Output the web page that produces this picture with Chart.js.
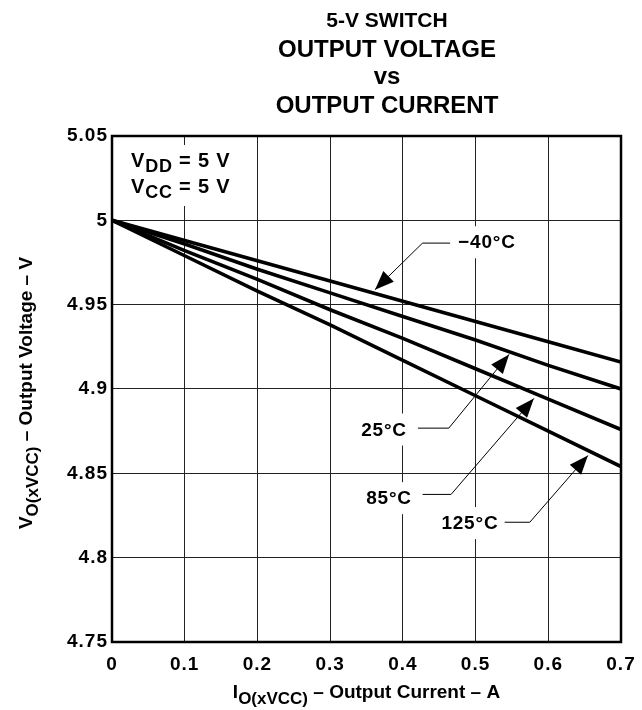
<!DOCTYPE html>
<html>
<head>
<meta charset="utf-8">
<script src="https://cdn.jsdelivr.net/npm/chart.js@4.4.0/dist/chart.umd.min.js"></script>
<style>
  html, body { margin: 0; padding: 0; background: #fff; }
  #wrap { width: 642px; height: 710px; position: relative; }
</style>
</head>
<body>
<div id="wrap"><canvas id="myChart"></canvas></div>
<script>
// output current (A)
const currents = [0, 0.1, 0.2, 0.3, 0.4, 0.5, 0.6, 0.7];
// output voltage (V) per temperature
const vMinus40 = [5.000, 4.988, 4.976, 4.964, 4.952, 4.940, 4.928, 4.916];
const v25 = [5.000, 4.986, 4.971, 4.957, 4.943, 4.929, 4.914, 4.900];
const v85 = [5.000, 4.982, 4.965, 4.947, 4.930, 4.912, 4.894, 4.876];
const v125 = [5.000, 4.979, 4.958, 4.938, 4.917, 4.896, 4.875, 4.854];
const tempLabels = ['\u221240\u00B0C', '25\u00B0C', '85\u00B0C', '125\u00B0C'];
const xTicks = [0, 0.1, 0.2, 0.3, 0.4, 0.5, 0.6, 0.7];
const yTicks = [4.75, 4.8, 4.85, 4.9, 4.95, 5, 5.05];

const FONT = "'Liberation Sans', Arial, sans-serif";
const ctx = document.getElementById('myChart');

function toPoints(xs, ys) {
    return xs.map((x, i) => ({ x: x, y: ys[i] }));
}

// callouts, placed in data units: text anchor, leader start, bend, arrow tip
var callouts = [
    { text: tempLabels[0], tx: 0.476, ty: 4.987, align: 'left',
      path: [[0.465, 4.9865], [0.427, 4.9865], [0.3617, 4.9589]] },
    { text: tempLabels[1], tx: 0.4055, ty: 4.876, align: 'right',
      path: [[0.4207, 4.8768], [0.4632, 4.8768], [0.5461, 4.9205]] },
    { text: tempLabels[2], tx: 0.4124, ty: 4.8353, align: 'right',
      path: [[0.4271, 4.8375], [0.4663, 4.8375], [0.5801, 4.8944]] },
    { text: tempLabels[3], tx: 0.5314, ty: 4.8205, align: 'right',
      path: [[0.54, 4.821], [0.5746, 4.821], [0.6545, 4.8606]] }
];

// draws base text followed by a lowered subscript and the rest, returns width
function drawSub(c, x, y, parts, measureOnly) {
    var w = 0;
    parts.forEach(function(p) {
        c.font = 'bold ' + p.size + 'px ' + FONT;
        if (!measureOnly) c.fillText(p.t, x + w, y + (p.dy || 0));
        w += c.measureText(p.t).width;
    });
    return w;
}

const annotate = {
    id: 'annotate',
    beforeLayout(chart) {
        // the tick labels in the original are set a little wider
        chart.ctx.letterSpacing = '1px';
    },
    beforeDraw(chart) {
        chart.ctx.letterSpacing = '1px';
    },
    beforeDatasetsDraw(chart) {
        var c = chart.ctx, xs = chart.scales.x, ys = chart.scales.y;
        c.save();
        c.fillStyle = '#fff';
        // white boxes behind the text blocks
        c.fillRect(126, 145, 114, 61);
        c.font = 'bold 19px ' + FONT;
        c.letterSpacing = '1px';
        callouts.forEach(function(o) {
            var w = c.measureText(o.text).width;
            var px = xs.getPixelForValue(o.tx), py = ys.getPixelForValue(o.ty);
            var left = o.align == 'left' ? px : px - w;
            c.fillRect(left - 5, py - 16, w + 10, 32);
        });
        c.restore();
    },
    afterDatasetsDraw(chart) {
        var c = chart.ctx, xs = chart.scales.x, ys = chart.scales.y;
        var a = chart.chartArea;
        c.save();
        // plot frame
        c.strokeStyle = '#000';
        c.lineWidth = 2.5;
        c.strokeRect(a.left, a.top, a.right - a.left, a.bottom - a.top);

        c.fillStyle = '#000';
        c.textBaseline = 'alphabetic';
        c.letterSpacing = '0.8px';
        // supply conditions
        drawSub(c, 131, 167, [{ t: 'V', size: 20 }, { t: 'DD', size: 18, dy: 5 }, { t: ' = 5 V', size: 20 }]);
        drawSub(c, 131, 193, [{ t: 'V', size: 20 }, { t: 'CC', size: 18, dy: 5 }, { t: ' = 5 V', size: 20 }]);

        // callouts
        callouts.forEach(function(o) {
            c.font = 'bold 19px ' + FONT;
            c.textAlign = o.align;
            c.textBaseline = 'middle';
            c.fillText(o.text, xs.getPixelForValue(o.tx), ys.getPixelForValue(o.ty) + 1);
            var pts = o.path.map(p => [xs.getPixelForValue(p[0]), ys.getPixelForValue(p[1])]);
            c.lineWidth = 1;
            c.beginPath();
            c.moveTo(pts[0][0], pts[0][1]);
            for (var i = 1; i < pts.length; i++) c.lineTo(pts[i][0], pts[i][1]);
            c.stroke();
            // arrow head
            var tip = pts[pts.length - 1], prev = pts[pts.length - 2];
            var ang = Math.atan2(tip[1] - prev[1], tip[0] - prev[0]);
            var len = 19, half = 7.5;
            c.beginPath();
            c.moveTo(tip[0], tip[1]);
            c.lineTo(tip[0] - len * Math.cos(ang) + half * Math.sin(ang), tip[1] - len * Math.sin(ang) - half * Math.cos(ang));
            c.lineTo(tip[0] - len * Math.cos(ang) - half * Math.sin(ang), tip[1] - len * Math.sin(ang) + half * Math.cos(ang));
            c.closePath();
            c.fill();
        });
        c.restore();
    },
    afterDraw(chart) {
        var c = chart.ctx, a = chart.chartArea;
        c.save();
        c.letterSpacing = '0px';
        c.fillStyle = '#000';
        c.textAlign = 'center';
        c.textBaseline = 'alphabetic';
        var cx = 387;
        c.font = 'bold 21px ' + FONT;
        c.fillText('5-V SWITCH', cx, 27);
        c.font = 'bold 24px ' + FONT;
        c.fillText('OUTPUT VOLTAGE', cx, 57);
        c.fillText('vs', cx, 84);
        c.fillText('OUTPUT CURRENT', cx, 113);

        // x axis title
        c.textAlign = 'left';
        var xParts = [{ t: 'I', size: 19 }, { t: 'O(xVCC)', size: 17, dy: 6 }, { t: ' \u2013 Output Current \u2013 A', size: 19 }];
        var w = drawSub(c, 0, 0, xParts, true);
        drawSub(c, (a.left + a.right) / 2 - w / 2, 698, xParts);

        // y axis title
        var yParts = [{ t: 'V', size: 19 }, { t: 'O(xVCC)', size: 17, dy: 6 }, { t: ' \u2013 Output Voltage \u2013 V', size: 19 }];
        c.translate(32, (a.top + a.bottom) / 2 + 4);
        c.rotate(-Math.PI / 2);
        w = drawSub(c, 0, 0, yParts, true);
        drawSub(c, -w / 2, 0, yParts);
        c.restore();
    }
};

function fmt(v) {
    return String(+Number(v).toFixed(2));
}

const series = [vMinus40, v25, v85, v125];

new Chart(ctx, {
    type: 'line',
    data: {
        datasets: series.map(function(s, i) {
            return {
                label: tempLabels[i],
                data: toPoints(currents, s),
                borderColor: '#000',
                borderWidth: 3.6,
                pointRadius: 0,
                tension: 0,
                fill: false
            };
        })
    },
    options: {
        responsive: true,
        maintainAspectRatio: false,
        animation: false,
        layout: { padding: { left: 0, top: 136, right: 21, bottom: 0 } },
        plugins: { legend: { display: false }, tooltip: { enabled: false } },
        scales: {
            x: {
                type: 'linear',
                min: xTicks[0],
                max: xTicks[xTicks.length - 1],
                afterBuildTicks: function(scale) { scale.ticks = xTicks.map(v => ({ value: v })); },
                afterFit: function(scale) {
                    scale.height = 68;
                    scale.paddingLeft = 0;
                    scale.paddingRight = 0;
                },
                grid: { color: '#222', lineWidth: 1, drawTicks: false },
                border: { display: false },
                ticks: {
                    padding: 11,
                    color: '#000',
                    font: { family: FONT, size: 19, weight: 'bold' },
                    callback: fmt,
                    maxRotation: 0
                }
            },
            y: {
                type: 'linear',
                min: yTicks[0],
                max: yTicks[yTicks.length - 1],
                afterBuildTicks: function(scale) { scale.ticks = yTicks.map(v => ({ value: v })); },
                afterFit: function(scale) {
                    scale.width = 112;
                    scale.paddingTop = 0;
                    scale.paddingBottom = 0;
                },
                grid: { color: '#222', lineWidth: 1, drawTicks: false },
                border: { display: false },
                ticks: {
                    padding: 4,
                    color: '#000',
                    font: { family: FONT, size: 19, weight: 'bold' },
                    callback: fmt
                }
            }
        }
    },
    plugins: [annotate]
});
</script>
</body>
</html>
